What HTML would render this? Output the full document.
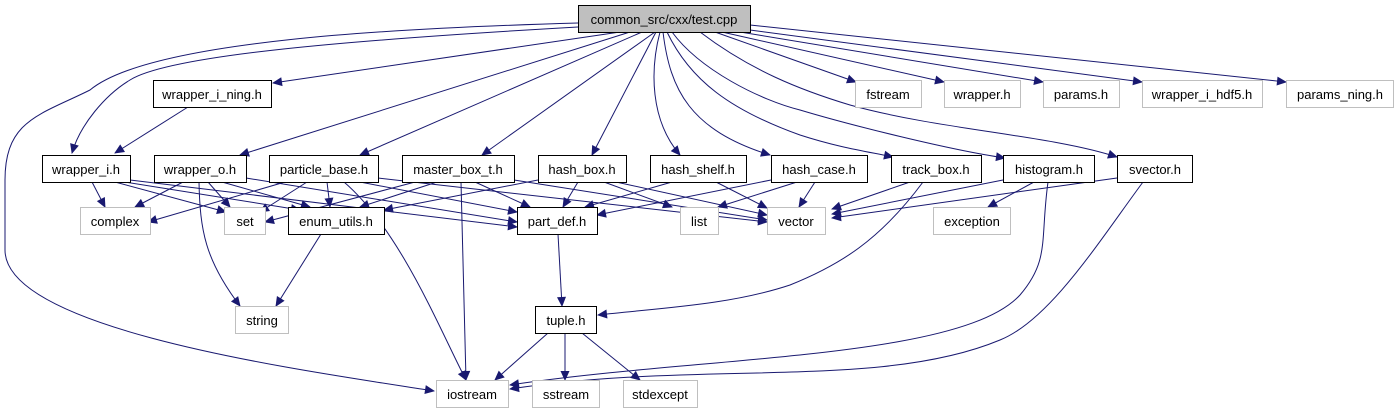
<!DOCTYPE html>
<html><head><meta charset="utf-8"><style>
html,body{margin:0;padding:0;background:#fff;}
svg{display:block;}
text{font-family:"Liberation Sans",sans-serif;font-size:13px;fill:#000;}
</style></head><body>
<svg width="1396" height="411" viewBox="0 0 1396 411" xmlns="http://www.w3.org/2000/svg">
<defs><marker id="a" viewBox="0 0 10 10" refX="9" refY="5" markerWidth="11" markerHeight="10" markerUnits="userSpaceOnUse" orient="auto"><path d="M0,0.5 L10,5 L0,9.5 z" fill="#191970"/></marker></defs>
<g fill="none" stroke="#191970" stroke-width="1" marker-end="url(#a)">
<path d="M578,23 C400,28 150,40 90,90 C40,115 5,120 5,180 L5,250 C5,330 300,370 434,391"/>
<path d="M578,27 C350,40 170,55 130,80 C105,95 80,125 72,153"/>
<path d="M620,32 L273,83"/>
<path d="M188,107 L115,153"/>
<path d="M630,32 L240,155"/>
<path d="M642,32 L360,155"/>
<path d="M655,32 L482,155"/>
<path d="M656,32 L592,155"/>
<path d="M660,32 C650,70 650,120 680,155"/>
<path d="M663,32 C670,90 690,130 770,155"/>
<path d="M667,32 C690,80 730,110 800,135 C840,148 870,152 893,157"/>
<path d="M672,32 C700,70 760,100 800,110 C850,125 950,150 1005,158"/>
<path d="M700,32 C750,70 800,90 850,105 C940,130 1050,135 1117,157"/>
<path d="M715,32 L856,82"/>
<path d="M722,32 L944,82"/>
<path d="M740,32 L1043,82"/>
<path d="M750,30 L1142,82"/>
<path d="M750,25 L1286,82"/>
<path d="M92,182 L105,207"/>
<path d="M115,182 L226,212"/>
<path d="M125,182 L300,210"/>
<path d="M130,180 L517,227"/>
<path d="M183,182 L135,207"/>
<path d="M208,182 L230,207"/>
<path d="M222,182 L310,207"/>
<path d="M246,178 L517,222"/>
<path d="M199,182 C200,230 205,260 240,306"/>
<path d="M285,182 L148,222"/>
<path d="M307,182 L260,212"/>
<path d="M327,182 L330,207"/>
<path d="M360,182 L517,212"/>
<path d="M378,178 L767,222"/>
<path d="M344,182 C400,230 440,330 466,380"/>
<path d="M415,182 L265,222"/>
<path d="M437,182 L360,207"/>
<path d="M475,182 L530,207"/>
<path d="M514,180 L767,220"/>
<path d="M461,182 L466,380"/>
<path d="M538,180 L384,210"/>
<path d="M578,182 L563,207"/>
<path d="M604,182 L672,207"/>
<path d="M616,182 L767,215"/>
<path d="M672,182 L585,207"/>
<path d="M716,182 L767,208"/>
<path d="M771,180 L597,215"/>
<path d="M797,182 L718,207"/>
<path d="M815,182 L799,207"/>
<path d="M910,182 L832,209"/>
<path d="M923,182 C880,240 840,265 790,285 C730,305 660,308 598,315"/>
<path d="M1003,180 L832,214"/>
<path d="M1034,182 L988,207"/>
<path d="M1048,182 C1040,240 1050,260 1020,295 C960,360 700,356 510,385"/>
<path d="M1117,178 L832,218"/>
<path d="M1143,182 C1100,240 1050,320 1000,340 C880,390 700,360 510,389"/>
<path d="M321,234 L276,306"/>
<path d="M558,234 L562,306"/>
<path d="M548,333 L495,380"/>
<path d="M565,333 L565,380"/>
<path d="M582,333 L640,380"/>
</g>
<g stroke-width="1">
<rect x="578.5" y="5.5" width="172" height="27" fill="#bfbfbf" stroke="#000"/>
<g fill="#fff" stroke="#000">
<rect x="153.5" y="80.5" width="118" height="27"/>
<rect x="42.5" y="155.5" width="88" height="27"/>
<rect x="154.5" y="155.5" width="92" height="27"/>
<rect x="269.5" y="155.5" width="109" height="27"/>
<rect x="402.5" y="155.5" width="112" height="27"/>
<rect x="538.5" y="155.5" width="88" height="27"/>
<rect x="650.5" y="155.5" width="96" height="27"/>
<rect x="771.5" y="155.5" width="96" height="27"/>
<rect x="891.5" y="155.5" width="90" height="27"/>
<rect x="1003.5" y="155.5" width="91" height="27"/>
<rect x="1117.5" y="155.5" width="75" height="27"/>
<rect x="288.5" y="207.5" width="96" height="27"/>
<rect x="517.5" y="207.5" width="80" height="27"/>
<rect x="535.5" y="306.5" width="61" height="27"/>
</g>
<g fill="#fff" stroke="#bfbfbf">
<rect x="855.5" y="80.5" width="66" height="27"/>
<rect x="944.5" y="80.5" width="76" height="27"/>
<rect x="1043.5" y="80.5" width="76" height="27"/>
<rect x="1142.5" y="80.5" width="120" height="27"/>
<rect x="1286.5" y="80.5" width="107" height="27"/>
<rect x="80.5" y="207.5" width="70" height="27"/>
<rect x="224.5" y="207.5" width="41" height="27"/>
<rect x="680.5" y="207.5" width="38" height="27"/>
<rect x="767.5" y="207.5" width="58" height="27"/>
<rect x="933.5" y="207.5" width="77" height="27"/>
<rect x="235.5" y="306.5" width="53" height="27"/>
<rect x="436.5" y="380.5" width="72" height="27"/>
<rect x="532.5" y="380.5" width="67" height="27"/>
<rect x="623.5" y="380.5" width="74" height="27"/>
</g>
</g>
<g text-anchor="middle">
<text x="664" y="24">common_src/cxx/test.cpp</text>
<text x="212" y="99">wrapper_i_ning.h</text>
<text x="888" y="99">fstream</text>
<text x="982" y="99">wrapper.h</text>
<text x="1081" y="99">params.h</text>
<text x="1202" y="99">wrapper_i_hdf5.h</text>
<text x="1340" y="99">params_ning.h</text>
<text x="86" y="174">wrapper_i.h</text>
<text x="200" y="174">wrapper_o.h</text>
<text x="324" y="174">particle_base.h</text>
<text x="458" y="174">master_box_t.h</text>
<text x="582" y="174">hash_box.h</text>
<text x="698" y="174">hash_shelf.h</text>
<text x="819" y="174">hash_case.h</text>
<text x="936" y="174">track_box.h</text>
<text x="1049" y="174">histogram.h</text>
<text x="1155" y="174">svector.h</text>
<text x="115" y="226">complex</text>
<text x="245" y="226">set</text>
<text x="336" y="226">enum_utils.h</text>
<text x="557" y="226">part_def.h</text>
<text x="699" y="226">list</text>
<text x="796" y="226">vector</text>
<text x="972" y="226">exception</text>
<text x="262" y="325">string</text>
<text x="566" y="325">tuple.h</text>
<text x="472" y="399">iostream</text>
<text x="566" y="399">sstream</text>
<text x="660" y="399">stdexcept</text>
</g>
</svg>
</body></html>
